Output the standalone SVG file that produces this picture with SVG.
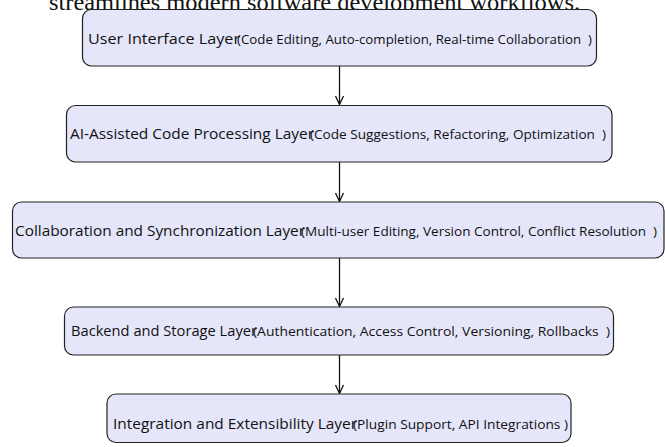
<svg xmlns="http://www.w3.org/2000/svg" width="665" height="447" viewBox="0 0 665 447">
<defs>
<style>
.box{fill:#e6e6fa;stroke:#222;stroke-width:1.2}
.t1{font-family:"Open Sans","Noto Sans",sans-serif;font-size:14px;fill:#111;white-space:pre}
.t2{font-family:"Open Sans","Noto Sans",sans-serif;font-size:12px;fill:#111;white-space:pre}
.title{font-family:"Liberation Serif",serif;font-size:24px;fill:#111}
.edge{stroke:#111;stroke-width:1.3;fill:none}
</style>
</defs>
<rect width="665" height="447" fill="#fff"/>
<text class="title" x="49" y="10" textLength="531" lengthAdjust="spacingAndGlyphs">streamlines modern software development workflows.</text>
<g id="connectors">
<line class="edge" x1="339.5" y1="66" x2="339.5" y2="104"/>
<path class="edge" d="M335.5,96 L339.5,104.5 L343.5,96"/>
<line class="edge" x1="339.5" y1="162" x2="339.5" y2="201"/>
<path class="edge" d="M335.5,193 L339.5,201.5 L343.5,193"/>
<line class="edge" x1="339.5" y1="258" x2="339.5" y2="306"/>
<path class="edge" d="M335.5,298 L339.5,306.5 L343.5,298"/>
<line class="edge" x1="339.5" y1="355" x2="339.5" y2="393"/>
<path class="edge" d="M335.5,385 L339.5,393.5 L343.5,385"/>
</g>
<g id="node1">
<rect class="box" x="82.5" y="9.5" width="514" height="56.5" rx="9"/>
<text class="t1" x="88" y="44" textLength="152" lengthAdjust="spacingAndGlyphs">User Interface Layer</text>
<text class="t2" x="237" y="44" textLength="355" lengthAdjust="spacingAndGlyphs">(Code Editing, Auto-completion, Real-time Collaboration  )</text>
</g>
<g id="node2">
<rect class="box" x="66.5" y="105.5" width="545.5" height="56.5" rx="9"/>
<text class="t1" x="70" y="139" textLength="244" lengthAdjust="spacingAndGlyphs">AI-Assisted Code Processing Layer</text>
<text class="t2" x="310" y="139" textLength="296" lengthAdjust="spacingAndGlyphs">(Code Suggestions, Refactoring, Optimization  )</text>
</g>
<g id="node3">
<rect class="box" x="12.5" y="202" width="651.5" height="56" rx="9"/>
<text class="t1" x="15" y="236" textLength="290" lengthAdjust="spacingAndGlyphs">Collaboration and Synchronization Layer</text>
<text class="t2" x="301" y="236" textLength="356" lengthAdjust="spacingAndGlyphs">(Multi-user Editing, Version Control, Conflict Resolution  )</text>
</g>
<g id="node4">
<rect class="box" x="64.5" y="307" width="549" height="48" rx="9"/>
<text class="t1" x="71" y="336" textLength="186" lengthAdjust="spacingAndGlyphs">Backend and Storage Layer</text>
<text class="t2" x="253" y="336" textLength="357" lengthAdjust="spacingAndGlyphs">(Authentication, Access Control, Versioning, Rollbacks  )</text>
</g>
<g id="node5">
<rect class="box" x="107" y="394" width="464" height="48.5" rx="9"/>
<text class="t1" x="113" y="429" textLength="244" lengthAdjust="spacingAndGlyphs">Integration and Extensibility Layer</text>
<text class="t2" x="353" y="429" textLength="215" lengthAdjust="spacingAndGlyphs">(Plugin Support, API Integrations )</text>
</g>
</svg>
